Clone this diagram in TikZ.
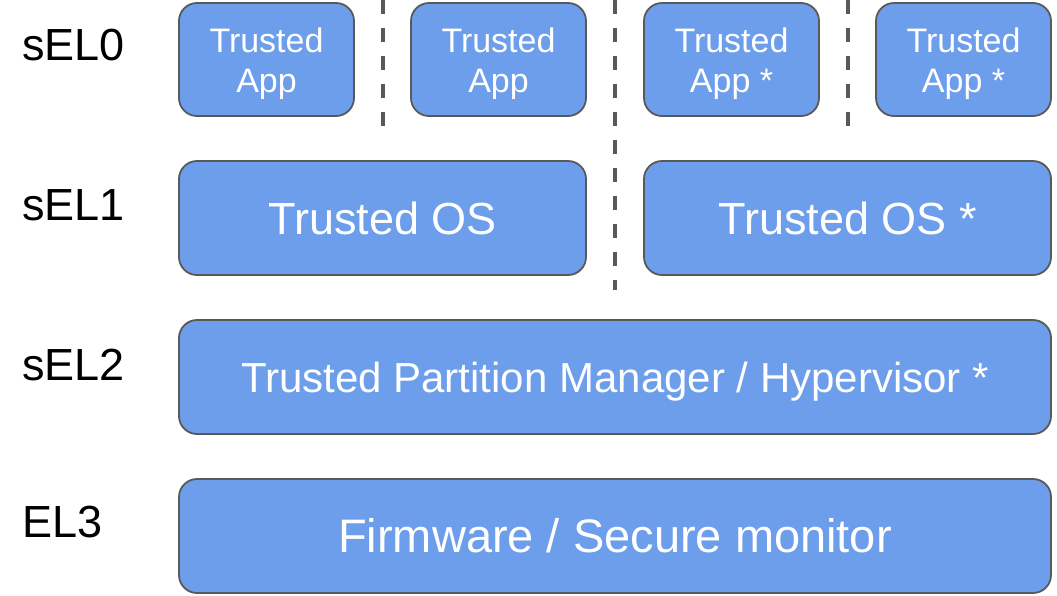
\documentclass[tikz,border=0pt]{standalone}
\usepackage{fontspec}
\setmainfont{Liberation Sans}
\definecolor{boxblue}{HTML}{6D9EEB}
\definecolor{bordergray}{HTML}{595959}
\tikzset{
  layerbox/.style={draw=bordergray, fill=boxblue, line width=1.8pt, rounded corners=18pt,
    text=white, align=center, inner sep=0pt, font=\fontsize{45}{48}\selectfont},
  appbox/.style={layerbox, minimum width=175pt, minimum height=113pt},
  apptext/.style={text=white, align=center, inner sep=0pt, font=\fontsize{34}{40}\selectfont},
  osbox/.style={layerbox, minimum width=407pt, minimum height=114pt},
  widebox/.style={layerbox, minimum width=872pt, minimum height=114pt},
  level/.style={anchor=west, inner sep=0pt, font=\fontsize{45}{48}\selectfont, text=black},
  sep/.style={draw=bordergray, line width=3.2pt, dash pattern=on 14pt off 14pt}
}
\begin{document}
\begin{tikzpicture}[x=1pt,y=-1pt]
\useasboundingbox (0,0) rectangle (1057,595);
% separators
\coordinate (s1t) at (383,0); \coordinate (s1b) at (383,127);
\coordinate (s2t) at (615,0); \coordinate (s2b) at (615,290);
\coordinate (s3t) at (848,0); \coordinate (s3b) at (848,127);
\draw[sep] (s1t) -- (s1b);
\draw[sep] (s2t) -- (s2b);
\draw[sep] (s3t) -- (s3b);
% boxes
\node[appbox] (ta1) at (266.5,59.5) {};
\node[appbox] (ta2) at (498.5,59.5) {};
\node[appbox] (ta3) at (731.5,59.5) {};
\node[appbox] (ta4) at (963.5,59.5) {};
\node[apptext] (ta1t) at ([yshift=-4pt]ta1.center) {Trusted\\App};
\node[apptext] (ta2t) at ([yshift=-4pt]ta2.center) {Trusted\\App};
\node[apptext] (ta3t) at ([yshift=-4pt]ta3.center) {Trusted\\App *};
\node[apptext] (ta4t) at ([yshift=-4pt]ta4.center) {Trusted\\App *};
\node[osbox] (os1) at (382.5,218) {Trusted OS};
\node[osbox] (os2) at (847.5,218) {Trusted OS *};
\node[widebox, text depth=0pt, font=\fontsize{42}{45}\selectfont] (tpm) at (615,377) {Trusted Partition Manager / Hypervisor *};
\node[widebox, font=\fontsize{47}{50}\selectfont] (fw) at (615,536) {Firmware / Secure monitor};
% level labels
\node[level] (l0) at (22,45) {sEL0};
\node[level] (l1) at (22,205) {sEL1};
\node[level] (l2) at (22,365) {sEL2};
\node[level] (l3) at (22,522) {EL3};
\end{tikzpicture}
\end{document}
